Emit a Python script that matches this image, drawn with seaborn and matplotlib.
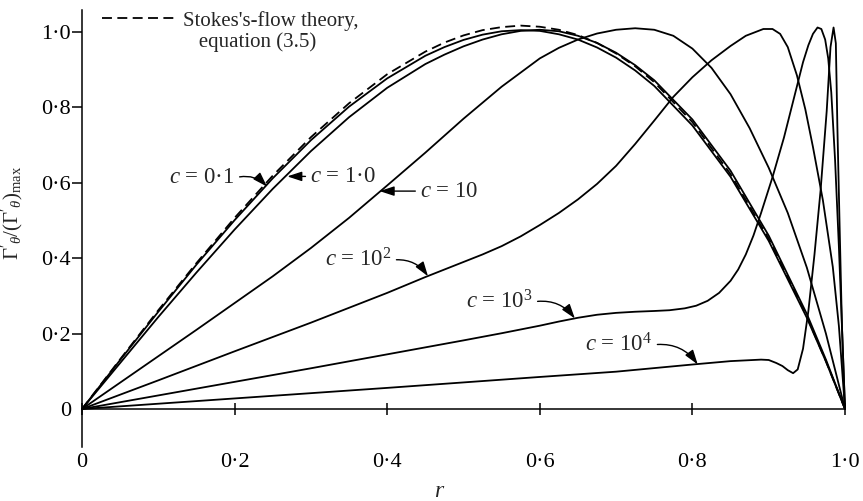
import matplotlib
matplotlib.use("Agg")
import matplotlib.pyplot as plt
import seaborn as sns
from matplotlib.lines import Line2D

# ---- data: normalised swirl profiles Gamma'_theta / (Gamma'_theta)_max versus r ----
R_LOW = [0, 0.05, 0.1, 0.15, 0.2, 0.25, 0.3, 0.35, 0.4, 0.45, 0.475, 0.5, 0.525,
         0.55, 0.575, 0.6, 0.625, 0.65, 0.675, 0.7, 0.725, 0.75, 0.8, 0.85, 0.9,
         0.95, 0.975, 1.0]
STOKES = [0, 0.132, 0.262, 0.387, 0.507, 0.619, 0.721, 0.811, 0.888, 0.948, 0.972,
          0.991, 1.005, 1.013, 1.017, 1.014, 1.006, 0.992, 0.971, 0.943, 0.909,
          0.867, 0.761, 0.623, 0.452, 0.245, 0.127, 0]
C_0_1 = [0, 0.130, 0.258, 0.383, 0.501, 0.612, 0.713, 0.802, 0.877, 0.937, 0.960,
         0.979, 0.993, 1.002, 1.005, 1.003, 0.994, 0.980, 0.959, 0.932, 0.898,
         0.857, 0.752, 0.616, 0.446, 0.242, 0.126, 0]
C_1 = [0, 0.122, 0.244, 0.362, 0.476, 0.584, 0.684, 0.774, 0.852, 0.915, 0.940,
       0.962, 0.980, 0.994, 1.003, 1.006, 1.002, 0.990, 0.971, 0.945, 0.912,
       0.872, 0.768, 0.632, 0.460, 0.252, 0.131, 0]

R_10 = [0, 0.05, 0.1, 0.15, 0.2, 0.25, 0.3, 0.35, 0.4, 0.45, 0.5, 0.55, 0.6, 0.625,
        0.65, 0.675, 0.7, 0.725, 0.75, 0.775, 0.8, 0.825, 0.85, 0.875, 0.9, 0.925,
        0.95, 0.975, 1.0]
C_10 = [0, 0.07, 0.14, 0.21, 0.281, 0.352, 0.427, 0.507, 0.593, 0.68, 0.77, 0.855,
        0.93, 0.958, 0.98, 0.996, 1.006, 1.01, 1.006, 0.99, 0.956, 0.905, 0.835,
        0.745, 0.64, 0.52, 0.375, 0.2, 0]

R_100 = [0, 0.1, 0.2, 0.3, 0.4, 0.45, 0.5, 0.525, 0.55, 0.575, 0.6, 0.625, 0.65,
         0.675, 0.7, 0.725, 0.75, 0.775, 0.8, 0.825, 0.85, 0.87, 0.893, 0.905, 0.915,
         0.925, 0.937, 0.948, 0.958, 0.971, 0.984, 0.992, 1.0]
C_100 = [0, 0.076, 0.153, 0.229, 0.308, 0.35, 0.39, 0.41, 0.432, 0.458, 0.488, 0.52,
         0.556, 0.597, 0.645, 0.703, 0.765, 0.828, 0.88, 0.925, 0.963, 0.99, 1.008,
         1.008, 0.995, 0.96, 0.885, 0.795, 0.695, 0.554, 0.377, 0.22, 0]

R_1000 = [0, 0.1, 0.2, 0.3, 0.4, 0.5, 0.55, 0.6, 0.625, 0.65, 0.675, 0.7, 0.725, 0.75,
          0.77, 0.79, 0.805, 0.82, 0.835, 0.85, 0.86, 0.87, 0.88, 0.89, 0.905, 0.92,
          0.935, 0.945, 0.952, 0.958, 0.964, 0.969, 0.974, 0.978, 0.982, 0.987,
          0.992, 0.996, 1.0]
C_1000 = [0, 0.036, 0.072, 0.108, 0.145, 0.182, 0.201, 0.221, 0.232, 0.242, 0.25,
          0.255, 0.258, 0.26, 0.262, 0.267, 0.274, 0.287, 0.308, 0.34, 0.37, 0.41,
          0.46, 0.52, 0.615, 0.72, 0.84, 0.92, 0.965, 0.995, 1.012, 1.008, 0.98,
          0.93, 0.84, 0.66, 0.43, 0.22, 0]

R_10000 = [0, 0.2, 0.4, 0.6, 0.7, 0.8, 0.85, 0.89, 0.9, 0.91, 0.918, 0.925, 0.932,
           0.938, 0.945, 0.952, 0.96, 0.968, 0.976, 0.981, 0.985, 0.988, 0.99, 0.993,
           0.996, 1.0]
C_10000 = [0, 0.028, 0.056, 0.085, 0.099, 0.118, 0.127, 0.131, 0.13, 0.122, 0.114,
           0.103, 0.095, 0.105, 0.16, 0.26, 0.41, 0.58, 0.79, 0.96, 1.012, 0.97, 0.75,
           0.48, 0.22, 0]

X_TICKS = [0, 0.2, 0.4, 0.6, 0.8, 1.0]
X_TICK_LABELS = ["0", "0·2", "0·4", "0·6", "0·8", "1·0"]
Y_TICKS = [0, 0.2, 0.4, 0.6, 0.8, 1.0]
Y_TICK_LABELS = ["0", "0·2", "0·4", "0·6", "0·8", "1·0"]

LEGEND_LABELS = ["Stokes's-flow theory,", "   equation (3.5)"]

# ---- style ----
sns.set_style("ticks")
plt.rcParams["font.family"] = ["Liberation Serif", "DejaVu Serif"]
plt.rcParams["mathtext.fontset"] = "custom"
plt.rcParams["mathtext.rm"] = "Liberation Serif"
plt.rcParams["mathtext.it"] = "Liberation Serif:italic"
plt.rcParams["mathtext.bf"] = "Liberation Serif:bold"

fig = plt.figure(figsize=(8.63, 5.01), dpi=100)
ax = fig.add_axes([82 / 863, 54 / 501, 763 / 863, 437 / 501])

LW = 1.3
solid_curves = [(R_LOW, C_0_1), (R_LOW, C_1), (R_10, C_10), (R_100, C_100),
                (R_1000, C_1000), (R_10000, C_10000)]
for r, v in solid_curves:
    sns.lineplot(x=r, y=v, ax=ax, color="black", lw=LW, sort=False,
                 estimator=None, legend=False, clip_on=False)

sns.lineplot(x=R_LOW, y=STOKES, ax=ax, color="black", lw=LW, sort=False,
             estimator=None, legend=False, clip_on=False)
stokes_line = ax.lines[-1]
stokes_line.set_dashes((5.5, 3))

ax.set_xlim(0, 1.0)
ax.set_ylim(-0.1008, 1.0584)

# ---- axes, ticks ----
for side in ("top", "right"):
    ax.spines[side].set_visible(False)
ax.spines["bottom"].set_position(("data", 0))
for side in ("left", "bottom"):
    ax.spines[side].set_linewidth(1.1)
    ax.spines[side].set_color("black")

ax.set_xticks(X_TICKS)
ax.set_xticklabels(X_TICK_LABELS)
ax.set_yticks(Y_TICKS)
ax.set_yticklabels(Y_TICK_LABELS)
ax.tick_params(axis="x", direction="inout", length=9, width=1.1, pad=27,
               labelsize=16, colors="black")
ax.tick_params(axis="y", direction="out", length=7, width=1.1, pad=1,
               labelsize=16, colors="black")
ax.yaxis.get_major_ticks()[0].tick1line.set_visible(False)

ax.set_ylabel(r"$\Gamma'_{\theta}/(\Gamma'_{\theta})_{\max}$", fontsize=15)
ax.yaxis.set_label_coords(-0.0745, 0.535)
ax.set_xlabel("$r$", fontsize=17)
ax.xaxis.set_label_coords(0.469, -0.078)

# ---- legend for the theoretical curve ----
blank = Line2D([], [], linestyle="none")
ax.legend([stokes_line, blank], LEGEND_LABELS, loc="upper left",
          bbox_to_anchor=(0.026, 0.998), frameon=False, fontsize=15,
          handlelength=3.6, handletextpad=0.3, labelspacing=0.05,
          borderpad=0, borderaxespad=0)

# ---- curve labels with arrows ----
arrow = dict(arrowstyle="-|>,head_length=0.55,head_width=0.18", color="black",
             lw=1.0, mutation_scale=16, shrinkA=1, shrinkB=0)
fs = 16.5
ax.annotate("$c$ = 0·1", xy=(0.2425, 0.590), xytext=(0.2005, 0.613),
            ha="right", va="center", fontsize=fs,
            arrowprops=dict(arrow, relpos=(1, 0.5), connectionstyle="arc3,rad=-0.3"))
ax.annotate("$c$ = 1·0", xy=(0.269, 0.617), xytext=(0.299, 0.617),
            ha="left", va="center", fontsize=fs,
            arrowprops=dict(arrow, relpos=(0, 0.5)))
ax.annotate("$c$ = 10", xy=(0.39, 0.578), xytext=(0.443, 0.578),
            ha="left", va="center", fontsize=fs,
            arrowprops=dict(arrow, relpos=(0, 0.5)))
ax.annotate("$c$ = 10$^2$", xy=(0.4535, 0.352), xytext=(0.406, 0.395),
            ha="right", va="center", fontsize=fs,
            arrowprops=dict(arrow, relpos=(1, 0.5), connectionstyle="arc3,rad=-0.3"))
ax.annotate("$c$ = 10$^3$", xy=(0.646, 0.240), xytext=(0.591, 0.284),
            ha="right", va="center", fontsize=fs,
            arrowprops=dict(arrow, relpos=(1, 0.5), connectionstyle="arc3,rad=-0.3"))
ax.annotate("$c$ = 10$^4$", xy=(0.807, 0.118), xytext=(0.748, 0.170),
            ha="right", va="center", fontsize=fs,
            arrowprops=dict(arrow, relpos=(1, 0.5), connectionstyle="arc3,rad=-0.3"))

fig.savefig("out.png", dpi=100, facecolor="white")
